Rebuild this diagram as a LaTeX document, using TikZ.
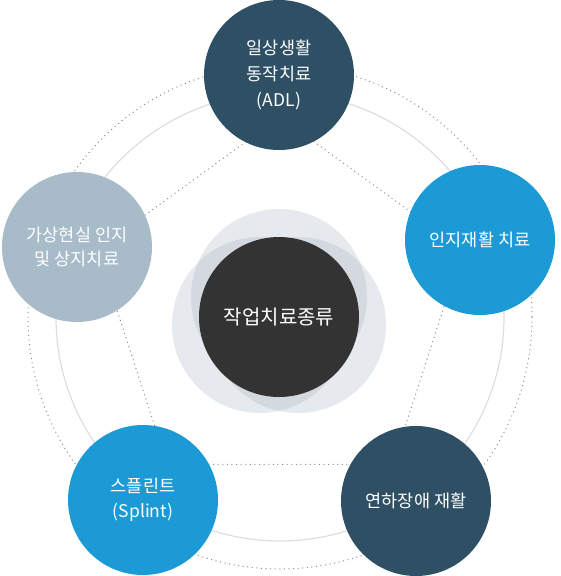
\documentclass[tikz,border=0pt]{standalone}
\usepackage{fontspec}
\setmainfont{Noto Sans CJK KR}
\begin{document}
\begin{tikzpicture}[x=1pt,y=-1pt,
  dotline/.style={draw={rgb,255:red,140;green,140;blue,140},line width=1pt,dash pattern=on 1pt off 3.6pt},
  ringline/.style={draw={rgb,255:red,222;green,222;blue,222},line width=1.2pt},
  bubble/.style={circle,minimum size=150pt,inner sep=0pt,text=white,align=center,font=\fontsize{17.5}{26}\selectfont},
  halo/.style={circle,minimum size=176pt,inner sep=0pt,fill={rgb,255:red,150;green,165;blue,178},fill opacity=0.24}]
\definecolor{slate}{RGB}{47,80,100}
\definecolor{sky}{RGB}{28,154,214}
\definecolor{mist}{RGB}{167,187,201}
\definecolor{coal}{RGB}{51,51,51}
\useasboundingbox (0,0) rectangle (560,576);
% rings
\coordinate (c0) at (280,317);
\draw[dotline] (c0) circle[radius=252];
\draw[ringline] (c0) circle[radius=224];
% inner pentagon
\coordinate (p1) at (280,117);
\coordinate (p2) at (462.6,249.7);
\coordinate (p3) at (392.9,464.3);
\coordinate (p4) at (167.1,464.3);
\coordinate (p5) at (97.4,249.7);
\draw[dotline] (p1) -- (p2) -- (p3) -- (p4) -- (p5) -- cycle;
% center halos
\node[halo] (h1) at (279,297) {};
\node[halo] (h2) at (260,325) {};
\node[halo] (h3) at (298,325) {};
\node[circle,minimum size=160pt,inner sep=0pt,fill=coal,text=white,font=\fontsize{20}{24}\selectfont] (core) at (279,317) {작업치료종류};
% outer bubbles
\node[bubble,fill=slate] (adl) at (279,75) {일상생활\\동작치료\\(ADL)};
\node[bubble,fill=sky] (cog) at (480,240) {인지재활 치료};
\node[bubble,fill=slate] (swal) at (416,501) {연하장애 재활};
\node[bubble,fill=sky,font=\fontsize{17.5}{25}\selectfont] (spl) at (143,500) {스플린트\\(Splint)};
\node[bubble,fill=mist,font=\fontsize{17.5}{24}\selectfont] (vr) at (77,247) {가상현실 인지\\및 상지치료};
\end{tikzpicture}
\end{document}
